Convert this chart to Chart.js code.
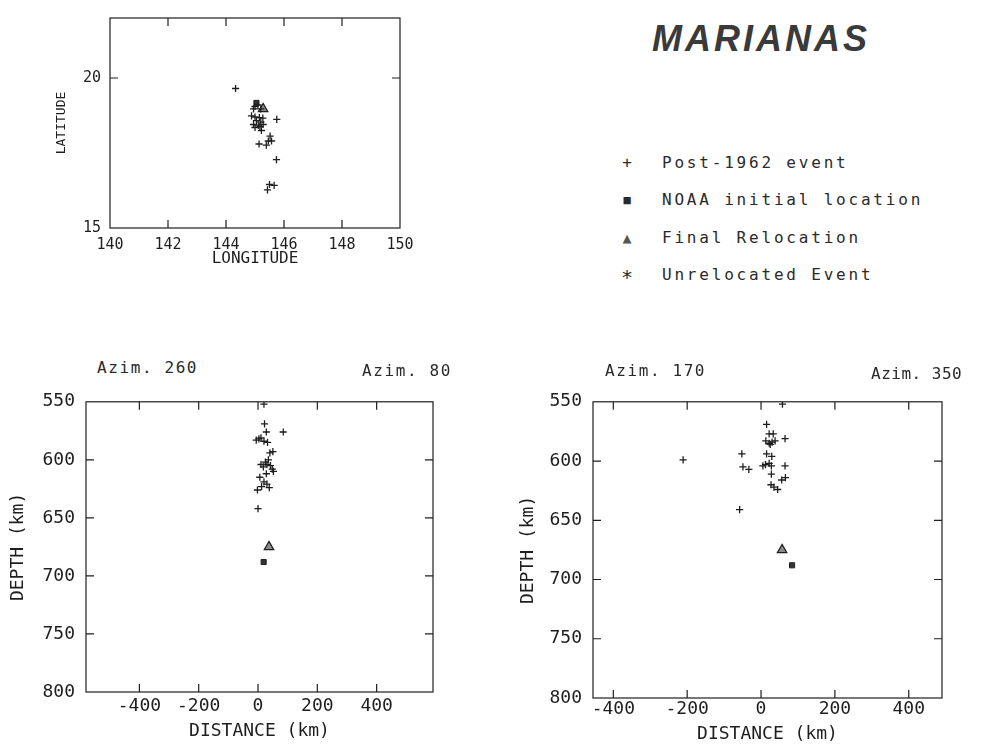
<!DOCTYPE html>
<html>
<head>
<meta charset="utf-8">
<script src="https://cdn.jsdelivr.net/npm/chart.js@4.4.1/dist/chart.umd.min.js"></script>
<style>
  body { margin: 0; background: #fff; width: 991px; height: 745px; position: relative; overflow: hidden;
         font-family: "DejaVu Sans Mono", monospace; color: #2a2a2a; }
  canvas { position: absolute; }
  .lbl { position: absolute; white-space: nowrap; font-size: 16px; line-height: 16px; letter-spacing: 1.6px; }
  #title { position: absolute; left: 652px; top: 18px; white-space: nowrap;
           font: italic bold 36px "Liberation Sans", Arial, sans-serif; letter-spacing: 3px; color: #3a3a3a; }
  .row { position: absolute; left: 0; white-space: nowrap; font-size: 16px; line-height: 16px; }
  .sym { position: absolute; width: 20px; text-align: center; }
  .txt { position: absolute; left: 662px; letter-spacing: 2.8px; }
</style>
</head>
<body>
<canvas id="mapChart" width="430" height="270" style="left:0;top:0"></canvas>
<canvas id="secW" width="460" height="365" style="left:0;top:380px"></canvas>
<canvas id="secS" width="465" height="365" style="left:505px;top:380px"></canvas>

<div id="title">MARIANAS</div>

<div class="row" style="top:155px"><span class="sym" style="left:617px">+</span><span class="txt">Post-1962 event</span></div>
<div class="row" style="top:192px"><span class="sym" style="left:617px;font-size:12px">■</span><span class="txt">NOAA initial location</span></div>
<div class="row" style="top:230px"><span class="sym" style="left:617px;font-size:15px;color:#555">▲</span><span class="txt">Final Relocation</span></div>
<div class="row" style="top:267px"><span class="sym" style="left:617px;font-size:20px;top:2px">*</span><span class="txt">Unrelocated Event</span></div>

<div class="lbl" style="left:97px;top:360px">Azim. 260</div>
<div class="lbl" style="left:362px;top:363px">Azim. 80</div>
<div class="lbl" style="left:605px;top:363px">Azim. 170</div>
<div class="lbl" style="left:871px;top:366px;letter-spacing:0.5px">Azim. 350</div>

<script>
// epicentres, [longitude, latitude]
const mapEvents = [
  [144.33, 19.65],
  [145.00, 19.05], [145.10, 19.10], [144.95, 18.97], [145.20, 18.97],
  [144.88, 18.74],
  [145.00, 18.70], [145.15, 18.68], [145.27, 18.66], [145.05, 18.58], [145.20, 18.53],
  [144.95, 18.45], [145.12, 18.43], [145.28, 18.45], [145.00, 18.35], [145.17, 18.38],
  [145.75, 18.62],
  [145.22, 18.25],
  [145.52, 18.06],
  [145.46, 17.90], [145.57, 17.90],
  [145.14, 17.80], [145.39, 17.76],
  [145.74, 17.28],
  [145.50, 16.45], [145.66, 16.42], [145.43, 16.27]
];
const mapNoaa = [[145.05, 19.17]];
const mapReloc = [[145.28, 18.97]];

// cross section Azim. 260 -> 80, [distance km, depth km]
const westEvents = [
  [20, 552], [22, 569], [28, 576], [85, 576],
  [-6, 583], [3, 582], [10, 581], [20, 584], [32, 585],
  [40, 594], [50, 593],
  [35, 600], [25, 602], [30, 604], [42, 605], [18, 606], [48, 608], [10, 604], [52, 610],
  [28, 612], [6, 615], [20, 619], [30, 621], [12, 623], [38, 624], [-2, 626],
  [0, 642]
];
const westNoaa = [[19, 688]];
const westReloc = [[37, 675]];

// cross section Azim. 170 -> 350
const southEvents = [
  [58, 552], [15, 569], [22, 577], [33, 577], [65, 581],
  [13, 583], [22, 585], [30, 584], [38, 583], [25, 586],
  [-52, 594], [15, 594], [29, 596],
  [-211, 599],
  [-49, 605], [-33, 607],
  [5, 604], [12, 603], [22, 602], [28, 604],
  [65, 604],
  [28, 611],
  [56, 616], [66, 614],
  [27, 620], [35, 622], [45, 624],
  [-58, 641]
];
const southNoaa = [[84, 688]];
const southReloc = [[57, 675]];

// axis ranges and tick labels
const lonRange = [140, 150];
const lonTicks = [140, 142, 144, 146, 148, 150];
const latRange = [15, 22];
const latTicks = [15, 20];
const depthRange = [550, 800];
const depthTicks = [550, 600, 650, 700, 750, 800];
const distRangeW = [-580, 590];
const distRangeS = [-455, 490];
const distTicks = [-400, -200, 0, 200, 400];

const INK = '#1e1e1e';
const MONO = '"DejaVu Sans Mono", monospace';

const pts = arr => arr.map(([x, y]) => ({ x, y }));

function symbolSets(ev, noaa, reloc) {
  return [
    { data: pts(ev), pointStyle: 'cross', pointRadius: 3.6, borderColor: INK, borderWidth: 1.3 },
    { data: pts(noaa), pointStyle: 'rect', pointRadius: 3.6, backgroundColor: '#333', borderColor: INK, borderWidth: 1 },
    { data: pts(reloc), pointStyle: 'triangle', pointRadius: 5.5, backgroundColor: '#8a8a8a', borderColor: INK, borderWidth: 1.2 }
  ];
}

// closed frame with short inward tick marks on all four sides
const frameTicks = {
  id: 'frameTicks',
  afterDatasetsDraw(chart) {
    const { ctx, chartArea: a, scales: { x, y } } = chart;
    const len = 8;
    ctx.save();
    ctx.strokeStyle = INK;
    ctx.lineWidth = 1.2;
    ctx.strokeRect(a.left, a.top, a.right - a.left, a.bottom - a.top);
    ctx.beginPath();
    x.ticks.forEach(t => {
      if (t.value <= x.min || t.value >= x.max) return;
      const p = x.getPixelForValue(t.value);
      ctx.moveTo(p, a.top); ctx.lineTo(p, a.top + len);
      ctx.moveTo(p, a.bottom); ctx.lineTo(p, a.bottom - len);
    });
    y.ticks.forEach(t => {
      if (t.value <= y.min || t.value >= y.max) return;
      const p = y.getPixelForValue(t.value);
      ctx.moveTo(a.left, p); ctx.lineTo(a.left + len, p);
      ctx.moveTo(a.right, p); ctx.lineTo(a.right - len, p);
    });
    ctx.stroke();
    ctx.restore();
  }
};

function axis(range, tickVals, o) {
  return {
    type: 'linear',
    min: range[0],
    max: range[1],
    reverse: !!o.reverse,
    border: { display: false },
    grid: { display: false, drawTicks: false },
    ticks: { autoSkip: false, padding: o.pad, color: INK, font: { family: MONO, size: o.tickSize } },
    afterBuildTicks(s) { s.ticks = tickVals.map(v => ({ value: v })); },
    title: { display: true, text: o.title, color: INK, padding: o.titlePad,
             font: { family: MONO, size: o.titleSize } },
    afterFit(s) { if (o.width) s.width = o.width; if (o.height) s.height = o.height; }
  };
}

function panel(id, datasets, xs, ys, padding) {
  return new Chart(document.getElementById(id), {
    type: 'scatter',
    data: { datasets },
    options: {
      responsive: false,
      animation: false,
      layout: { padding },
      plugins: { legend: { display: false }, tooltip: { enabled: false } },
      scales: { x: xs, y: ys }
    },
    plugins: [frameTicks]
  });
}

panel('mapChart', symbolSets(mapEvents, mapNoaa, mapReloc),
  axis(lonRange, lonTicks, { title: 'LONGITUDE', tickSize: 15, titleSize: 16, pad: 8, titlePad: { top: 0, bottom: 2 }, height: 42 }),
  axis(latRange, latTicks, { title: 'LATITUDE', tickSize: 15, titleSize: 13, pad: 9, titlePad: { top: 54, bottom: 0 }, width: 110 }),
  { top: 10, right: 30, left: 0, bottom: 0 });

panel('secW', symbolSets(westEvents, westNoaa, westReloc),
  axis(distRangeW, distTicks, { title: 'DISTANCE (km)', tickSize: 18, titleSize: 18, pad: 4, titlePad: { top: 0, bottom: 3 }, height: 53 }),
  axis(depthRange, depthTicks, { reverse: true, title: 'DEPTH (km)', tickSize: 18, titleSize: 18, pad: 11, titlePad: { top: 8, bottom: 0 }, width: 86 }),
  { top: 17, right: 27, left: 0, bottom: 0 });

panel('secS', symbolSets(southEvents, southNoaa, southReloc),
  axis(distRangeS, distTicks, { title: 'DISTANCE (km)', tickSize: 18, titleSize: 18, pad: 1, titlePad: { top: 0, bottom: 0 }, height: 47 }),
  axis(depthRange, depthTicks, { reverse: true, title: 'DEPTH (km)', tickSize: 18, titleSize: 18, pad: 11, titlePad: { top: 13, bottom: 0 }, width: 88 }),
  { top: 18, right: 28, left: 0, bottom: 0 });
</script>
</body>
</html>
